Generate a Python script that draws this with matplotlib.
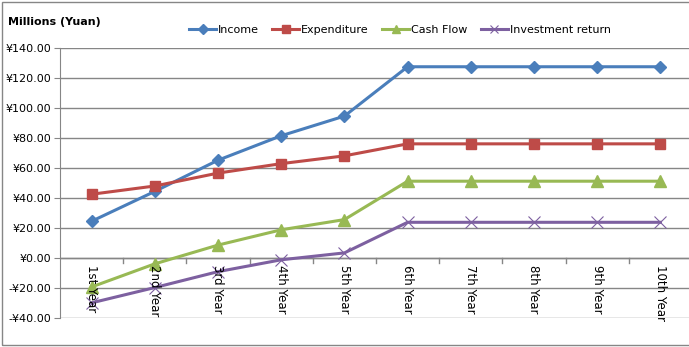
import numpy as np
import matplotlib.pyplot as plt
from matplotlib.patches import Rectangle
from matplotlib.ticker import FuncFormatter

years = ['1st Year', '2nd Year', '3rd Year', '4th Year', '5th Year',
         '6th Year', '7th Year', '8th Year', '9th Year', '10th Year']
income = [24.5, 44.4, 65.2, 81.5, 94.6, 127.5, 127.5, 127.5, 127.5, 127.5]
expenditure = [42.5, 48.0, 56.6, 62.9, 68.1, 76.1, 76.1, 76.1, 76.1, 76.1]
cash_flow = [-19.3, -3.9, 8.6, 18.8, 25.6, 51.2, 51.2, 51.2, 51.2, 51.2]
invest_return = [-29.9, -19.7, -9.1, -1.2, 3.4, 23.8, 23.8, 23.8, 23.8, 23.8]

plt.rcParams['font.family'] = ['DejaVu Sans']
fig = plt.figure(figsize=(6.89, 3.47), dpi=100)
ax = fig.add_axes([60 / 689, 1 - 318 / 347, 632 / 689, 270 / 347])

x = np.arange(len(years))
ax.plot(x, income, color='#4A7EBB', lw=2.2, marker='D', ms=6, label='Income')
ax.plot(x, expenditure, color='#BE4B48', lw=2.2, marker='s', ms=7.5, label='Expenditure')
ax.plot(x, cash_flow, color='#98B954', lw=2.2, marker='^', ms=8, label='Cash Flow')
ax.plot(x, invest_return, color='#7D60A0', lw=2.2, marker='x', ms=8, mew=0.8,
        label='Investment return')

ax.set_xlim(-0.5, len(years) - 0.5)
ax.set_ylim(-40, 140)
ax.set_yticks(np.arange(-40, 141, 20))
ax.yaxis.set_major_formatter(FuncFormatter(lambda v, p: ('-' if v < 0 else '') + '¥%.2f' % abs(v)))
ax.grid(axis='y', color='#868686', lw=1)
ax.set_axisbelow(True)
for s in ['top', 'right', 'bottom']:
    ax.spines[s].set_visible(False)
ax.spines['left'].set_color('#868686')
ax.tick_params(axis='y', length=4, color='#868686', labelsize=8, pad=2)

# category axis sits at zero
ax.set_xticks([])
ax.axhline(0, color='#868686', lw=1, zorder=0.5)
for b in np.arange(0.5, len(years) - 0.5, 1):
    ax.plot([b, b], [0, -3], color='#868686', lw=1, zorder=0.5)
for i, lab in enumerate(years):
    ax.text(i, -4.5, lab, rotation=270, ha='center', va='top', fontsize=8.5)

fig.text(8 / 689, 1 - 22 / 347, 'Millions (Yuan)', fontsize=8, fontweight='bold',
         va='center', ha='left')
fig.legend(loc='center', bbox_to_anchor=(400 / 689, 1 - 30 / 347), ncol=4, frameon=False,
           fontsize=8, handlelength=2.4, columnspacing=1.2, handletextpad=0.2,
           markerscale=0.8)

fig.patches.append(Rectangle((2 / 689, 2 / 347), 1, 1 - 4 / 347, transform=fig.transFigure,
                             fill=False, edgecolor='#868686', lw=1))

fig.savefig('out.png', dpi=100)
